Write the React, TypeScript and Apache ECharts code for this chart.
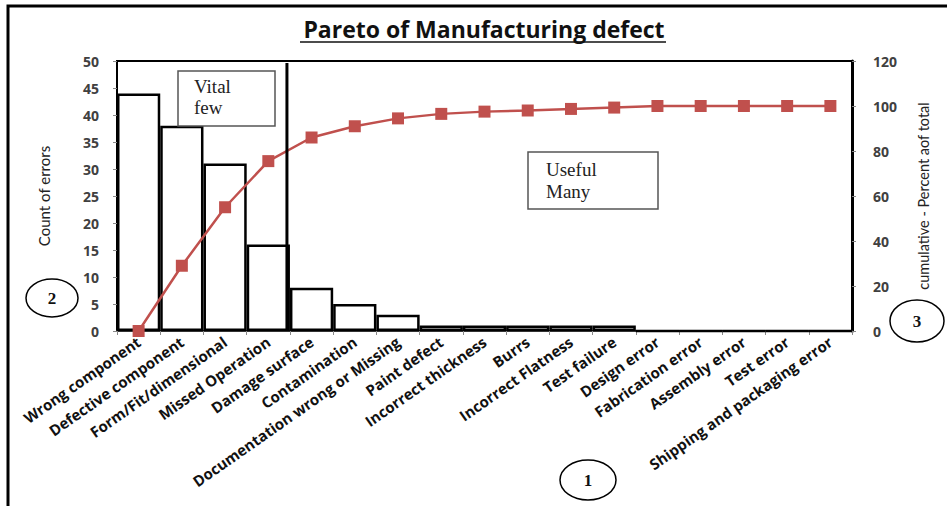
import React, { useEffect, useRef } from "react";
import * as echarts from "echarts";

const categories = [
  "Wrong component",
  "Defective component",
  "Form/Fit/dimensional",
  "Missed Operation",
  "Damage surface",
  "Contamination",
  "Documentation wrong or Missing",
  "Paint defect",
  "Incorrect thickness",
  "Burrs",
  "Incorrect Flatness",
  "Test failure",
  "Design error",
  "Fabrication error",
  "Assembly error",
  "Test error",
  "Shipping and packaging error",
];
const counts = [44, 38, 31, 16, 8, 5, 3, 1, 1, 1, 1, 1, 0, 0, 0, 0, 0];
const cumulativePct = [0, 29, 55, 75.5, 86, 91, 94.5, 96.5, 97.5, 98, 98.7, 99.3, 100, 100, 100, 100, 100];
const countTicks = { min: 0, max: 50, interval: 5 };
const pctTicks = { min: 0, max: 120, interval: 20 };

const TITLE = "Pareto of Manufacturing defect";
const LEFT_NAME = "Count of errors";
const RIGHT_NAME = "cumulative - Percent aof total";

export default function App() {
  const ref = useRef<HTMLDivElement>(null);
  useEffect(() => {
    if (!ref.current) return;
    const chart = echarts.init(ref.current, undefined, { renderer: "svg" });
    const axisLabelStyle = {
      fontFamily: "Open Sans",
      fontWeight: "bold" as const,
      fontSize: 14,
      color: "#404040",
    };
    chart.setOption({
      animation: false,
      backgroundColor: "#ffffff",
      title: {
        text: TITLE,
        left: 479,
        textAlign: "center",
        top: 12,
        textStyle: { fontFamily: "Open Sans", fontWeight: "bold", fontSize: 23, color: "#111" },
      },
      grid: {
        left: 117,
        right: 95,
        top: 61,
        bottom: 175,
        show: true,
        borderColor: "#000",
        borderWidth: 2,
        backgroundColor: "transparent",
      },
      xAxis: {
        type: "category",
        data: categories,
        boundaryGap: true,
        axisLine: { lineStyle: { color: "#333", width: 2 } },
        axisTick: { show: true, alignWithLabel: false, length: 4, lineStyle: { color: "#888" } },
        axisLabel: { ...axisLabelStyle, fontSize: 15, color: "#111", rotate: 35, interval: 0, margin: 9 },
      },
      yAxis: [
        {
          type: "value",
          ...countTicks,
          position: "left",
          name: LEFT_NAME,
          nameLocation: "middle",
          nameRotate: 90,
          nameGap: 66,
          nameTextStyle: { fontFamily: "Lato", fontSize: 15, color: "#222" },
          axisLine: { show: true, lineStyle: { color: "#000", width: 2 } },
          axisTick: { show: true, length: 4, lineStyle: { color: "#888" } },
          splitLine: { show: false },
          axisLabel: { ...axisLabelStyle, margin: 18 },
        },
        {
          type: "value",
          ...pctTicks,
          position: "right",
          name: RIGHT_NAME,
          nameLocation: "middle",
          nameRotate: 90,
          nameGap: 64,
          nameTextStyle: { fontFamily: "Lato", fontSize: 14.5, color: "#222" },
          axisLine: { show: true, lineStyle: { color: "#000", width: 3 } },
          axisTick: { show: true, length: 4, lineStyle: { color: "#888" } },
          splitLine: { show: false },
          axisLabel: { ...axisLabelStyle, margin: 21 },
        },
      ],
      series: [
        {
          type: "bar",
          data: counts,
          yAxisIndex: 0,
          barCategoryGap: "0%",
          itemStyle: { color: "#ffffff", borderColor: "#000", borderWidth: 2.5 },
          z: 2,
        },
        {
          type: "line",
          data: cumulativePct,
          yAxisIndex: 1,
          symbol: "rect",
          symbolSize: 12,
          lineStyle: { color: "#c0504d", width: 2.5 },
          itemStyle: { color: "#c0504d" },
          z: 4,
        },
      ],
    });

    const x3 = chart.convertToPixel({ xAxisIndex: 0 }, 3) as number;
    const x4 = chart.convertToPixel({ xAxisIndex: 0 }, 4) as number;
    const sepX = (x3 + x4) / 2 - 3;
    const yTop = chart.convertToPixel({ yAxisIndex: 0 }, 50) as number;
    const yBot = chart.convertToPixel({ yAxisIndex: 0 }, 0) as number;

    const circle = (cx: number, cy: number, rx: number, ry: number, label: string) => ({
      type: "group",
      children: [
        {
          type: "ellipse",
          shape: { cx, cy, rx, ry },
          style: { fill: "#fff", stroke: "#000", lineWidth: 1.5 },
        },
        {
          type: "text",
          x: cx,
          y: cy,
          style: {
            text: label,
            align: "center",
            verticalAlign: "middle",
            font: "bold 17px 'Liberation Serif'",
            fill: "#111",
          },
        },
      ],
    });

    chart.setOption({
      graphic: [
        {
          type: "rect",
          shape: { x: 8, y: 6, width: 960, height: 520 },
          style: { fill: "none", stroke: "#000", lineWidth: 3 },
          z: 100,
        },
        {
          type: "line",
          shape: { x1: 300, y1: 42, x2: 666, y2: 42 },
          style: { stroke: "#111", lineWidth: 1.5 },
        },
        {
          type: "line",
          shape: { x1: sepX, y1: yTop + 2, x2: sepX, y2: yBot - 2 },
          style: { stroke: "#000", lineWidth: 3 },
          z: 50,
        },
        {
          type: "rect",
          shape: { x: 178, y: 71, width: 97, height: 55 },
          style: { fill: "#fff", stroke: "#555", lineWidth: 1.5 },
          z: 60,
        },
        {
          type: "text",
          x: 194,
          y: 76,
          z: 61,
          style: {
            text: "Vital\nfew",
            font: "19px 'Liberation Serif'",
            lineHeight: 21,
            fill: "#222",
          },
        },
        {
          type: "rect",
          shape: { x: 528, y: 152, width: 130, height: 57 },
          style: { fill: "#fff", stroke: "#555", lineWidth: 1.5 },
          z: 60,
        },
        {
          type: "text",
          x: 546,
          y: 158,
          z: 61,
          style: {
            text: "Useful\nMany",
            font: "19px 'Liberation Serif'",
            lineHeight: 22,
            fill: "#222",
          },
        },
        circle(52, 298, 26, 19, "2"),
        circle(917, 321, 27, 21, "3"),
        circle(588, 480, 28, 20, "1"),
      ],
    });

    return () => chart.dispose();
  }, []);
  return (
    <div
      ref={ref}
      style={{ position: "fixed", left: 0, top: 0, width: 947, height: 506, background: "#fff" }}
    />
  );
}
